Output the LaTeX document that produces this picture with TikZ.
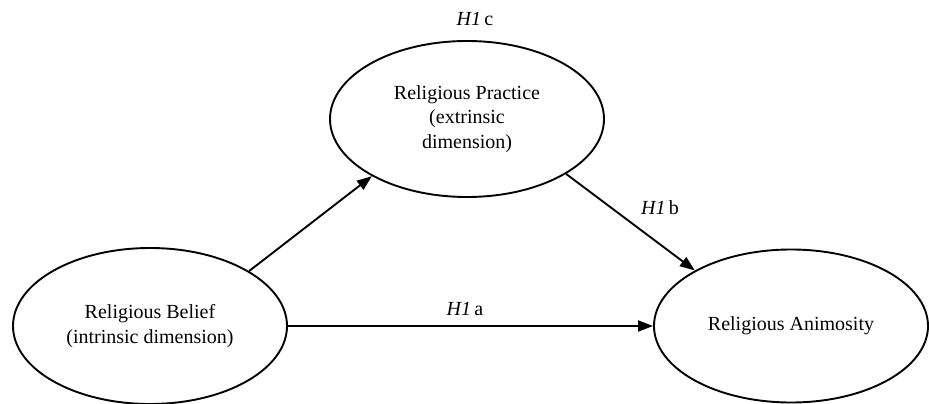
\documentclass[tikz,border=0pt]{standalone}
\usepackage{fontspec}
\setmainfont{Liberation Serif}
\usetikzlibrary{shapes.geometric,arrows.meta}
\begin{document}
\begin{tikzpicture}[x=1pt,y=-1pt,
  construct/.style={draw=black, line width=1.9pt, ellipse, inner sep=0pt,
    minimum width=274pt, minimum height=156pt, align=center,
    font=\fontsize{20}{24.5}\selectfont},
  hyp/.style={font=\fontsize{20}{24}\selectfont, inner sep=0pt},
  link/.style={line width=1.9pt, -{Triangle[length=15pt,width=11pt]}}]
\useasboundingbox (0,0) rectangle (929,404);
\node[construct] (practice) at (467,119) {Religious Practice\\(extrinsic\\dimension)};
\node[construct] (belief) at (150,326) {Religious Belief\\(intrinsic dimension)};
\node[construct, minimum height=153pt] (animosity) at (791,326) {Religious Animosity};
\node[hyp] (h1c) at (475,19) {\textit{H1}\,c};
\node[hyp] (h1b) at (660,208) {\textit{H1}\,b};
\node[hyp] (h1a) at (465,309) {\textit{H1}\,a};
\draw[link] (belief.29.6) -- (practice.211.4);
\draw[link] (practice.331) -- (animosity.150.3);
\draw[link] (belief.east) -- (animosity.west);
\end{tikzpicture}
\end{document}
